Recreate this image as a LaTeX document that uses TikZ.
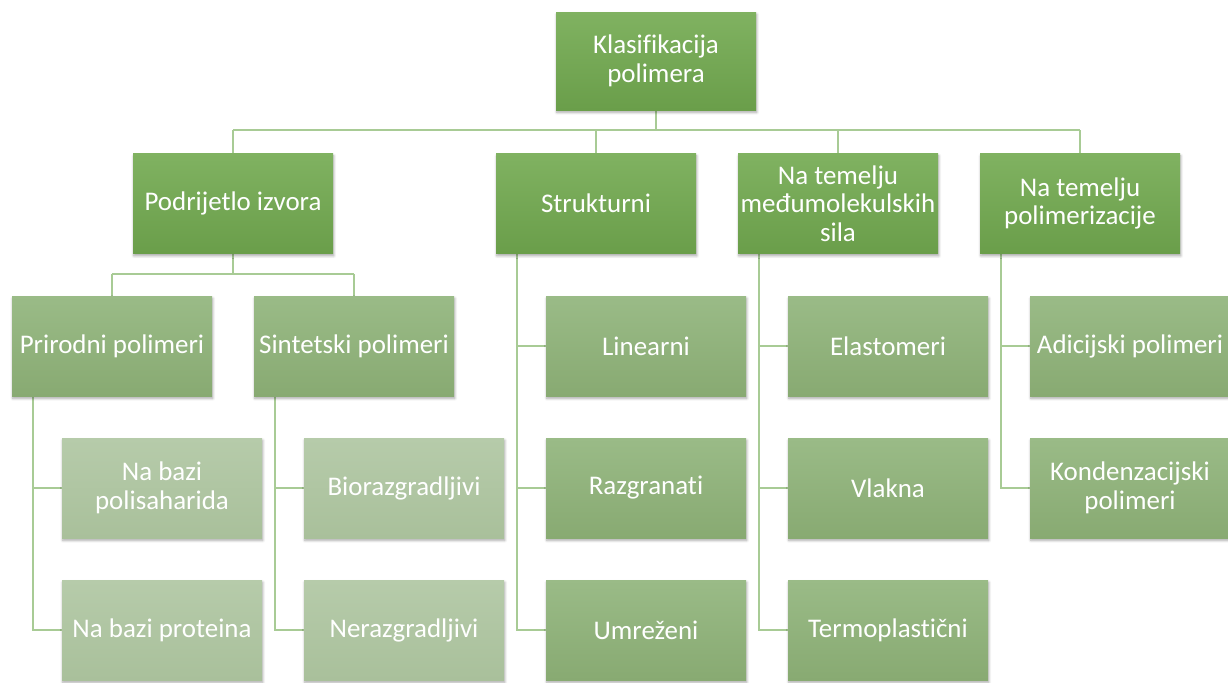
\documentclass[tikz,border=0pt]{standalone}
\usepackage{fontspec}
\setmainfont[Ligatures={NoCommon}]{Carlito}
\usetikzlibrary{shadows.blur}
\definecolor{gTop}{HTML}{80B261}
\definecolor{gBot}{HTML}{6A9E4A}
\definecolor{mTop}{HTML}{9ABB87}
\definecolor{mBot}{HTML}{88AA72}
\definecolor{lTop}{HTML}{B6CBAA}
\definecolor{lBot}{HTML}{A9C09B}
\definecolor{linkcol}{HTML}{A8CB95}
\tikzset{
  box/.style={minimum width=150pt,minimum height=75pt,inner sep=2pt,align=center,
    text=white,font=\fontsize{20.2}{21.5}\selectfont,
    blur shadow={shadow xshift=0.6pt,shadow yshift=-1.8pt,shadow opacity=35,shadow blur steps=6}},
  darkbox/.style={box,top color=gTop,bottom color=gBot},
  midbox/.style={box,top color=mTop,bottom color=mBot},
  lightbox/.style={box,top color=lTop,bottom color=lBot},
  link/.style={draw=linkcol,line width=2.1pt}
}
\begin{document}
\begin{tikzpicture}[x=0.75pt,y=-0.75pt]
\useasboundingbox (0,0) rectangle (1228,682);
% connectors first
\coordinate (rootc) at (656,61);
\coordinate (podrc) at (233,203.5);
\coordinate (struc) at (596,203.5);
\coordinate (silec) at (838,203.5);
\coordinate (polc) at (1080,203.5);
\path (podrc) ++(0,-50) coordinate (podrN);
\path (struc) ++(0,-50) coordinate (struN);
\path (silec) ++(0,-50) coordinate (sileN);
\path (polc) ++(0,-50) coordinate (polN);
\draw[link] (656,110) -- (656,130);
\draw[link] (233,130) -- (1080,130);
\foreach \c in {podrN,struN,sileN,polN}
  \draw[link] (\c) -- (\c |- 0,130);
\draw[link] (233,254) -- (233,274);
\draw[link] (112,274) -- (354,274);
\draw[link] (112,274) -- (112,296);
\draw[link] (354,274) -- (354,296);
% side brackets
\draw[link] (33,396) |- (62,488);
\draw[link] (33,396) |- (62,630);
\draw[link] (275,396) |- (304,488);
\draw[link] (275,396) |- (304,630);
\draw[link] (517,254) |- (546,346);
\draw[link] (517,254) |- (546,488);
\draw[link] (517,254) |- (546,630);
\draw[link] (759,254) |- (788,346);
\draw[link] (759,254) |- (788,488);
\draw[link] (759,254) |- (788,630);
\draw[link] (1001,254) |- (1030,346);
\draw[link] (1001,254) |- (1030,488);
% boxes
\node[darkbox,minimum height=73.5pt] (root) at (rootc) {Klasifikacija\\polimera};
\node[darkbox] (podr) at (podrc) {Podrijetlo izvora};
\node[darkbox] (stru) at (struc) {Strukturni};
\node[darkbox] (sile) at (silec) {Na temelju\\međumolekulskih\\sila};
\node[darkbox] (pol) at (polc) {Na temelju\\polimerizacije};
\node[midbox] (prir) at (112,346) {Prirodni polimeri};
\node[midbox] (sint) at (354,346) {Sintetski polimeri};
\node[lightbox] (polisah) at (162,488) {Na bazi\\polisaharida};
\node[lightbox] (prot) at (162,630) {Na bazi proteina};
\node[lightbox] (bio) at (404,488) {Biorazgradljivi};
\node[lightbox] (nerazg) at (404,630) {Nerazgradljivi};
\node[midbox] (lin) at (646,346) {Linearni};
\node[midbox] (razg) at (646,488) {Razgranati};
\node[midbox] (umr) at (646,630) {Umreženi};
\node[midbox] (elast) at (888,346) {Elastomeri};
\node[midbox] (vlak) at (888,488) {Vlakna};
\node[midbox] (termo) at (888,630) {Termoplastični};
\node[midbox] (adic) at (1130,346) {Adicijski polimeri};
\node[midbox] (kond) at (1130,488) {Kondenzacijski\\polimeri};
\end{tikzpicture}
\end{document}
